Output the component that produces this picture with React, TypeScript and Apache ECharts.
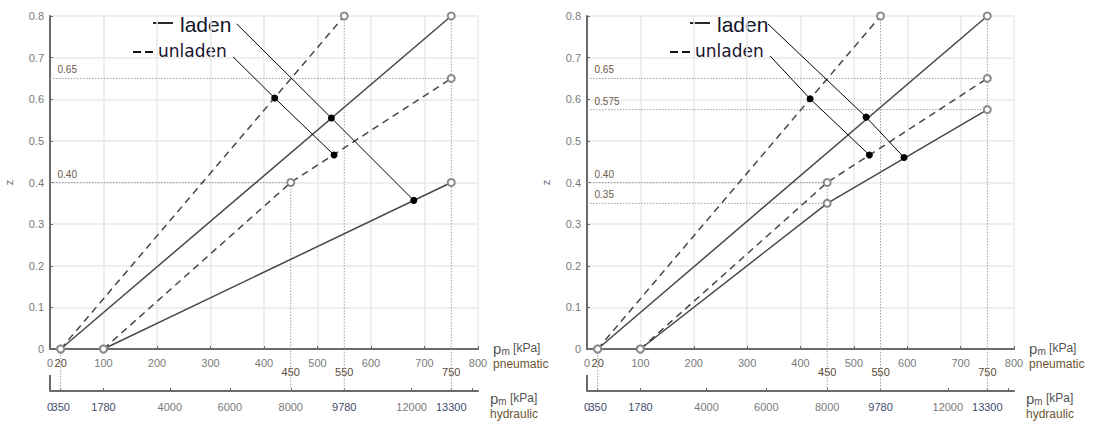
import React, { useEffect, useRef } from "react";
import * as echarts from "echarts";

// ---------- scales ----------
const PNEU_LABEL_VALUES = [0, 20, 100, 200, 300, 400, 500, 600, 700, 800];
const PNEU_MARK_VALUES = [450, 550, 750];
const HYD_POSITIONS = [0, 20, 100, 224, 336, 450, 550, 676, 750];
const HYD_LABELS = ["0", "350", "1780", "4000", "6000", "8000", "9780", "12000", "13300"];
const HYD_END_TICK = 790;
const HYD_LEVEL = -0.1; // z level (below the plot) where the hydraulic scale lies

// ---------- left chart ----------
const L_LADEN_HI = [[20, 0], [750, 0.8]];
const L_LADEN_LO = [[100, 0], [750, 0.4]];
const L_UNLADEN_HI = [[20, 0], [550, 0.8]];
const L_UNLADEN_LO = [[100, 0], [450, 0.4], [750, 0.65]];
const L_LADEN_LEADER = [[349, 0.781], [526, 0.555], [680, 0.357]];
const L_UNLADEN_LEADER = [[342, 0.702], [420, 0.603], [531, 0.466]];
const L_REF_Z = [0.65, 0.4];
const L_REF_END = [750, 450];
const L_REF_LABELS = ["0.65", "0.40"];
const L_VERTICALS = [[20, 0], [450, 0.4], [550, 0.8], [750, 0.8]];

// ---------- right chart ----------
const R_LADEN_HI = [[20, 0], [750, 0.8]];
const R_LADEN_LO = [[100, 0], [450, 0.35], [750, 0.575]];
const R_UNLADEN_HI = [[20, 0], [550, 0.8]];
const R_UNLADEN_LO = [[100, 0], [450, 0.4], [750, 0.65]];
const R_LADEN_LEADER = [[339, 0.781], [523, 0.557], [594, 0.46]];
const R_UNLADEN_LEADER = [[343, 0.704], [418, 0.601], [529, 0.466]];
const R_REF_Z = [0.65, 0.575, 0.4, 0.35];
const R_REF_END = [750, 750, 450, 450];
const R_REF_LABELS = ["0.65", "0.575", "0.40", "0.35"];
const R_VERTICALS = [[20, 0], [450, 0.4], [550, 0.8], [750, 0.8]];

const FONT = "Liberation Sans";
const LINE_COLOR = "#474747";
const MARK_COLOR = "#8c8c8c";
const AXIS_COLOR = "#6a6a6a";
const GRID_COLOR = "#e8e8e8";
const REF_COLOR = "#a0a0a0";
const DARK_LABEL = "#3f4c6e";

const nameRich = {
  p: { fontSize: 15, color: "#555", fontFamily: FONT },
  sub: { fontSize: 10, color: "#555", fontFamily: FONT, verticalAlign: "bottom", padding: [8, 0, 0, 0] },
  u: { fontSize: 12, color: "#555", fontFamily: FONT },
  n: { fontSize: 12, color: "#6b5633", fontFamily: FONT },
};

const hydLabel = (v: number) => {
  const i = HYD_POSITIONS.indexOf(Number(v));
  return i >= 0 ? HYD_LABELS[i] : "";
};

function xAxesFor(k: number) {
  return [
    {
      gridIndex: k,
      type: "value",
      min: 0,
      max: 800,
      interval: 100,
      position: "bottom",
      axisLine: { show: true, lineStyle: { color: AXIS_COLOR, width: 2 } },
      axisTick: { show: true, inside: true, length: 3, lineStyle: { color: AXIS_COLOR } },
      axisLabel: {
        customValues: PNEU_LABEL_VALUES,
        showMinLabel: true,
        showMaxLabel: true,
        margin: 8,
        fontSize: 11,
        fontFamily: FONT,
        color: (v: any) => (Number(v) === 20 ? "#5c4a36" : "#7a7a7a"),
      },
      splitLine: { show: true, lineStyle: { color: GRID_COLOR, width: 1.5 } },
      name: "{p|p}{sub|m}{u| [kPa]}\n{n|pneumatic}",
      nameLocation: "end",
      nameGap: 12,
      nameTextStyle: { rich: nameRich, lineHeight: 16, padding: [14, 0, 0, 0], align: "left" },
    },
    {
      gridIndex: k,
      type: "value",
      min: 0,
      max: 800,
      position: "bottom",
      axisLine: { show: false },
      axisTick: { show: false },
      splitLine: { show: false },
      axisLabel: {
        customValues: PNEU_MARK_VALUES,
        showMinLabel: true,
        showMaxLabel: true,
        margin: 17,
        fontSize: 11,
        fontFamily: FONT,
        color: "#5c4a36",
      },
    },
    {
      gridIndex: k,
      type: "value",
      min: 0,
      max: 800,
      position: "bottom",
      offset: 42,
      axisLine: { show: true, lineStyle: { color: AXIS_COLOR, width: 2 } },
      axisTick: {
        show: true,
        inside: true,
        length: 3,
        customValues: [...HYD_POSITIONS.slice(1), HYD_END_TICK],
        lineStyle: { color: AXIS_COLOR },
      },
      axisLabel: {
        customValues: HYD_POSITIONS.slice(1),
        showMinLabel: true,
        showMaxLabel: true,
        hideOverlap: false,
        margin: 10,
        fontSize: 11,
        fontFamily: FONT,
        formatter: hydLabel,
        color: (v: any) => ([20, 100, 550, 750].indexOf(Number(v)) >= 0 ? DARK_LABEL : "#7a7a7a"),
      },
      splitLine: { show: false },
      name: "{p|p}{sub|m}{u| [kPa]}\n{n|hydraulic}",
      nameLocation: "end",
      nameGap: 12,
      nameTextStyle: { rich: nameRich, lineHeight: 16, padding: [30, 0, 0, 0], align: "left" },
    },
    {
      // start of the hydraulic scale: tall stub and its "0" label
      gridIndex: k,
      type: "value",
      min: 0,
      max: 800,
      position: "bottom",
      offset: 42,
      axisLine: { show: false },
      axisTick: {
        show: true,
        inside: true,
        length: 16,
        customValues: HYD_POSITIONS.slice(0, 1),
        lineStyle: { color: AXIS_COLOR, width: 2 },
      },
      axisLabel: {
        show: true,
        customValues: HYD_POSITIONS.slice(0, 1),
        showMinLabel: true,
        margin: 10,
        fontSize: 11,
        fontFamily: FONT,
        formatter: hydLabel,
        color: DARK_LABEL,
      },
      splitLine: { show: false },
    },
  ];
}

function yAxisFor(k: number) {
  return {
    gridIndex: k,
    type: "value",
    min: 0,
    max: 0.8,
    interval: 0.1,
    axisLine: { show: true, lineStyle: { color: AXIS_COLOR, width: 2 } },
    axisTick: { show: true, inside: true, length: 3, lineStyle: { color: AXIS_COLOR } },
    axisLabel: { margin: 6, fontSize: 11, fontFamily: FONT, color: "#7a7a7a" },
    splitLine: { show: true, lineStyle: { color: GRID_COLOR, width: 1.5 } },
    name: "z",
    nameLocation: "middle",
    nameGap: 36,
    nameTextStyle: { fontSize: 11, fontFamily: FONT, color: "#666" },
  };
}

function curve(data: number[][], xi: number, yi: number, dashed: boolean) {
  return {
    type: "line",
    xAxisIndex: xi,
    yAxisIndex: yi,
    data,
    symbol: "emptyCircle",
    symbolSize: 7,
    showSymbol: true,
    lineStyle: { color: LINE_COLOR, width: 1.5, type: dashed ? [7, 5] : "solid" },
    itemStyle: { color: MARK_COLOR, borderWidth: 1.2 },
    z: 3,
    silent: true,
  };
}

function leader(data: number[][], xi: number, yi: number) {
  return {
    type: "line",
    xAxisIndex: xi,
    yAxisIndex: yi,
    data: data.map((p, i) => (i === 0 ? { value: p, symbol: "none" } : { value: p })),
    symbol: "circle",
    symbolSize: 7,
    showSymbol: true,
    lineStyle: { color: "#000", width: 1 },
    itemStyle: { color: "#000" },
    z: 4,
    silent: true,
  };
}

function refH(z: number, xEnd: number, label: string, xi: number, yi: number) {
  return {
    type: "line",
    xAxisIndex: xi,
    yAxisIndex: yi,
    data: [{ value: [0, z], label: { show: true, formatter: label } }, [xEnd, z]],
    symbol: "circle",
    symbolSize: 1,
    showSymbol: true,
    itemStyle: { color: "rgba(0,0,0,0)", borderWidth: 0 },
    label: { show: false, position: [8, -13], fontSize: 10, fontFamily: FONT, color: "#6a5a48" },
    lineStyle: { color: REF_COLOR, width: 1, type: [1.5, 1.5] },
    z: 1,
    clip: false,
    silent: true,
  };
}

function refV(p: number[], xi: number, yi: number) {
  return {
    type: "line",
    xAxisIndex: xi,
    yAxisIndex: yi,
    data: [p, [p[0], HYD_LEVEL]],
    symbol: "none",
    lineStyle: { color: REF_COLOR, width: 1, type: [1.5, 1.5] },
    z: 1,
    clip: false,
    silent: true,
  };
}

function chartSeries(
  xi: number,
  yi: number,
  ladenHi: number[][],
  ladenLo: number[][],
  unHi: number[][],
  unLo: number[][],
  ladenLeader: number[][],
  unLeader: number[][],
  refZ: number[],
  refEnd: number[],
  refLabels: string[],
  verticals: number[][]
) {
  return [
    ...refZ.map((z, i) => refH(z, refEnd[i], refLabels[i], xi, yi)),
    ...verticals.map((p) => refV(p, xi, yi)),
    curve(ladenHi, xi, yi, false),
    curve(ladenLo, xi, yi, false),
    curve(unHi, xi, yi, true),
    curve(unLo, xi, yi, true),
    leader(ladenLeader, xi, yi),
    leader(unLeader, xi, yi),
  ];
}

function legendGraphics(solidX: number, dashX: number) {
  return [
    {
      type: "line",
      shape: { x1: solidX, y1: 23, x2: solidX + 20, y2: 23 },
      style: { stroke: "#111", lineWidth: 1.8 },
    },
    {
      type: "text",
      x: solidX + 27,
      y: 24,
      style: { text: "laden", fontSize: 21, fontFamily: "Liberation Sans", fill: "#141428", verticalAlign: "middle" },
    },
    {
      type: "line",
      shape: { x1: dashX, y1: 52, x2: dashX + 20, y2: 52 },
      style: { stroke: "#111", lineWidth: 1.8, lineDash: [8, 4] },
    },
    {
      type: "text",
      x: dashX + 25,
      y: 51,
      style: { text: "unladen", fontSize: 17, fontFamily: "DejaVu Sans", fill: "#1a1230", verticalAlign: "middle" },
    },
  ];
}

export default function App() {
  const ref = useRef<HTMLDivElement>(null);

  useEffect(() => {
    if (!ref.current) return;
    const chart = echarts.init(ref.current, undefined, { renderer: "svg" });
    const option: any = {
      animation: false,
      backgroundColor: "#ffffff",
      textStyle: { fontFamily: FONT },
      grid: [
        { left: 50, top: 16, width: 428, height: 333, outerBoundsMode: "none", containLabel: false },
        { left: 587, top: 16, width: 427, height: 333, outerBoundsMode: "none", containLabel: false },
      ],
      xAxis: [...xAxesFor(0), ...xAxesFor(1)],
      yAxis: [yAxisFor(0), yAxisFor(1)],
      series: [
        ...chartSeries(
          0, 0,
          L_LADEN_HI, L_LADEN_LO, L_UNLADEN_HI, L_UNLADEN_LO,
          L_LADEN_LEADER, L_UNLADEN_LEADER,
          L_REF_Z, L_REF_END, L_REF_LABELS, L_VERTICALS
        ),
        ...chartSeries(
          4, 1,
          R_LADEN_HI, R_LADEN_LO, R_UNLADEN_HI, R_UNLADEN_LO,
          R_LADEN_LEADER, R_UNLADEN_LEADER,
          R_REF_Z, R_REF_END, R_REF_LABELS, R_VERTICALS
        ),
      ],
      graphic: [...legendGraphics(153, 133), ...legendGraphics(690, 670)],
    };
    chart.setOption(option);
    return () => chart.dispose();
  }, []);

  return (
    <div
      ref={ref}
      style={{ position: "absolute", left: 0, top: 0, width: 1095, height: 424, background: "#fff" }}
    />
  );
}
